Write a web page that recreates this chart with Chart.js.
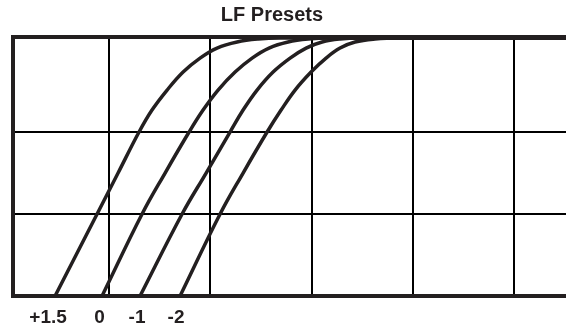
<!DOCTYPE html>
<html>
<head>
<meta charset="utf-8">
<script src="https://cdn.jsdelivr.net/npm/chart.js@4/dist/chart.umd.min.js"></script>
<style>
  body { margin: 0; background: #fff; }
  #wrap { width: 566px; height: 329px; }
</style>
</head>
<body>
<div id="wrap"><canvas id="lfChart" width="566" height="329"></canvas></div>
<script>
// level of each sampled point (in grid rows), shared by all four curves
const curveLevels = [0, 1.0, 1.5, 2.0, 2.268, 2.512, 2.732, 2.902, 3.024, 3.098, 3.134, 3.146, 3.146];
// x position of each curve at those levels (in grid columns)
const curvePlus15 = [0.467, 0.882, 1.089, 1.296, 1.424, 1.573, 1.731, 1.898, 2.066, 2.264, 2.471, 2.688, 5.51];
const curveZero   = [0.931, 1.326, 1.553, 1.790, 1.928, 2.076, 2.244, 2.412, 2.579, 2.767, 2.964, 3.182, 5.51];
const curveMinus1 = [1.306, 1.721, 1.958, 2.194, 2.323, 2.461, 2.619, 2.787, 2.945, 3.103, 3.280, 3.478, 5.51];
const curveMinus2 = [1.701, 2.096, 2.323, 2.560, 2.698, 2.836, 2.994, 3.142, 3.280, 3.428, 3.626, 3.873, 5.51];

const gridX = [1, 2, 3, 4, 5];
const labelX = [0.398, 0.906, 1.276, 1.661];
const labelText = ['+1.5', '0', '-1', '-2'];
const gridY = [1, 2];
const xMin = 0.052, xMax = 5.51;
const yMin = 0, yMax = 3.159;

const ink = '#231f20';

const lineSet = (name, xs) => ({
    label: name,
    data: xs.map((x, i) => ({ x: x, y: curveLevels[i] })),
    borderColor: ink,
    borderWidth: 3.5,
    pointRadius: 0,
    fill: false,
    tension: 0.4
});

// the original title sits a bit left of centre
const titleShift = {
    id: 'titleShift',
    afterLayout(chart) {
        const tb = chart.titleBlock;
        if (tb) tb.right = 2 * 272 - tb.left;
    }
};

const ctx = document.getElementById('lfChart').getContext('2d');
new Chart(ctx, {
    type: 'line',
    data: {
        datasets: [
            lineSet('+1.5', curvePlus15),
            lineSet('0', curveZero),
            lineSet('-1', curveMinus1),
            lineSet('-2', curveMinus2)
        ]
    },
    options: {
        responsive: false,
        animation: false,
        layout: { padding: { left: 13, right: 0, top: 0, bottom: -9.8 } },
        plugins: {
            legend: { display: false },
            tooltip: { enabled: false },
            title: {
                display: true,
                text: 'LF Presets',
                color: ink,
                font: { family: 'Liberation Sans', size: 20, weight: 'bold' },
                padding: { top: 3, bottom: 10 }
            }
        },
        scales: {
            x: {
                type: 'linear',
                min: xMin,
                max: xMax,
                afterBuildTicks: scale => {
                    scale.ticks = [...labelX, ...gridX].sort((a, b) => a - b).map(v => ({ value: v }));
                },
                grid: {
                    drawTicks: false,
                    color: c => (c.tick && gridX.includes(c.tick.value)) ? '#000' : 'rgba(0,0,0,0)',
                    lineWidth: 2
                },
                border: { display: true, color: ink, width: 4 },
                ticks: {
                    autoSkip: false,
                    maxRotation: 0,
                    padding: 10,
                    color: ink,
                    font: { family: 'Liberation Sans', size: 19, weight: 'bold' },
                    callback: v => {
                        const i = labelX.indexOf(v);
                        return i >= 0 ? labelText[i] : '';
                    }
                }
            },
            y: {
                type: 'linear',
                min: yMin,
                max: yMax,
                afterBuildTicks: scale => {
                    scale.ticks = [...gridY, yMax].map(v => ({ value: v }));
                },
                grid: {
                    drawTicks: false,
                    color: c => (c.tick && c.tick.value === yMax) ? ink : '#000',
                    lineWidth: c => (c.tick && c.tick.value === yMax) ? 4 : 2
                },
                border: { display: true, color: ink, width: 4 },
                ticks: { display: false }
            }
        }
    },
    plugins: [titleShift]
});
</script>
</body>
</html>
